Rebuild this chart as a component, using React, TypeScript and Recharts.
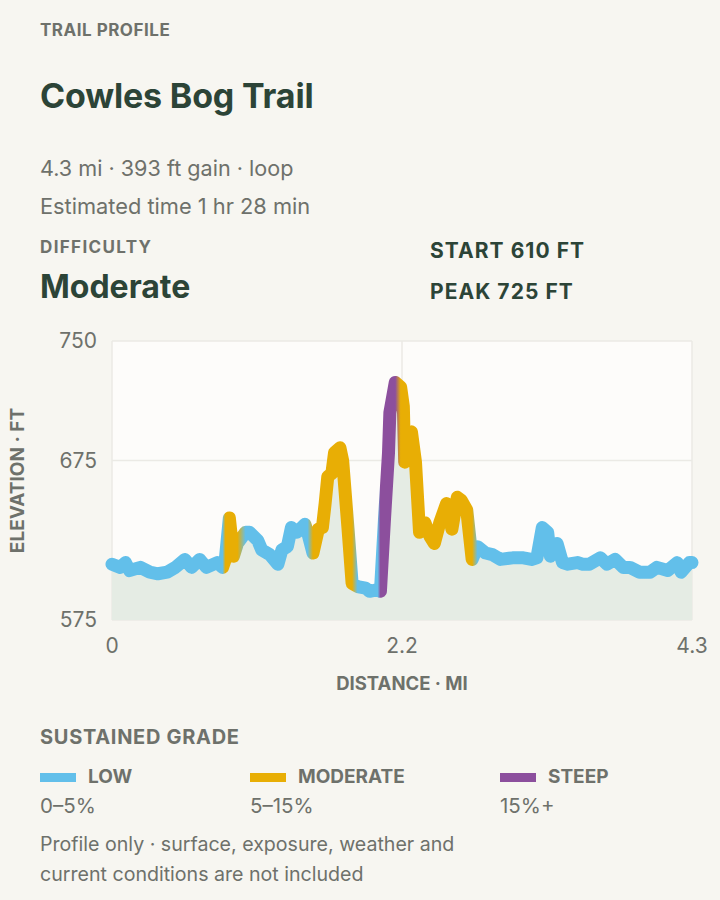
import { ComposedChart, Area, Line, XAxis, YAxis, CartesianGrid } from "recharts";

const distanceMi = [
  0, 0.06, 0.1, 0.13, 0.21, 0.28, 0.34, 0.41, 0.47, 0.54, 0.59, 0.65, 0.7, 0.78, 0.82,
  0.84, 0.87, 0.9, 0.93, 0.99, 1.02, 1.08, 1.11, 1.17, 1.23, 1.26, 1.3, 1.33, 1.37, 1.43,
  1.45, 1.49, 1.53, 1.56, 1.58, 1.6, 1.63, 1.65, 1.69, 1.71, 1.75, 1.78, 1.82, 1.88, 1.91,
  1.97, 1.99, 2.02, 2.05, 2.06, 2.1, 2.14, 2.16, 2.17, 2.19, 2.22, 2.25, 2.28, 2.32, 2.36,
  2.39, 2.43, 2.48, 2.52, 2.56, 2.59, 2.63, 2.67, 2.71, 2.77, 2.82, 2.88, 2.97, 3.05, 3.11,
  3.15, 3.19, 3.23, 3.25, 3.3, 3.34, 3.38, 3.45, 3.49, 3.54, 3.62, 3.67, 3.73, 3.79, 3.84,
  3.91, 3.99, 4.04, 4.12, 4.19, 4.22, 4.28, 4.3,
];
const elevationFt = [
  610, 608, 611, 606, 608, 605, 604, 605, 608, 613, 608, 613, 608, 611, 608,
  613, 639, 615, 623, 630, 630, 625, 619, 616, 610, 619, 621, 633, 630, 635,
  630, 617, 632, 633, 648, 665, 667, 680, 683, 675, 632, 598, 596, 595, 593,
  594, 593, 638, 680, 705, 724, 721, 709, 674, 690, 693, 674, 630, 636, 627,
  623, 636, 648, 632, 652, 650, 644, 613, 621, 617, 616, 613, 614, 614, 613,
  614, 633, 630, 615, 623, 611, 610, 611, 610, 610, 614, 610, 613, 608, 608,
  605, 605, 608, 606, 611, 605, 611, 611,
];

// sustained grade sections (mi), everything else is low
const bandFrom = [0.835, 1.47, 1.985, 2.12];
const bandTo = [0.95, 1.79, 2.11, 2.68];
const bandGrade = ["moderate", "moderate", "steep", "moderate"];

const distanceTicks = [0, 2.15, 4.3];
const elevationTicks = [575, 675, 750];

const gradeLabels = ["LOW", "MODERATE", "STEEP"];
const gradeRanges = ["0–5%", "5–15%", "15%+"];

const GRADE_COLORS: Record<string, string> = {
  low: "#62bfea",
  moderate: "#e8ae05",
  steep: "#8c4f9d",
};
const gradeKeys = ["low", "moderate", "steep"];
const legendX = [40, 250, 500];

const data = distanceMi.map((d, i) => ({ d, elev: elevationFt[i] }));

const gradeAt = (d: number) => {
  for (let i = 0; i < bandFrom.length; i++) {
    if (d >= bandFrom[i] && d <= bandTo[i]) return bandGrade[i];
  }
  return "low";
};

const FONT = "Inter, 'Noto Sans', sans-serif";
const DARK = "#2c4437";
const GRAY = "#6e716b";
const maxD = distanceMi[distanceMi.length - 1];

const fmtMi = (v: number) => (v === 0 ? "0" : String(Math.round(v * 10) / 10));

function T({ x, y, size, bold, color, children, lh, ls }: any) {
  const h = lh || size + 6;
  return (
    <div
      style={{
        position: "absolute",
        left: x,
        top: y - h / 2,
        fontSize: size,
        lineHeight: `${h}px`,
        fontWeight: bold ? 700 : 400,
        letterSpacing: ls || 0,
        color,
        whiteSpace: "nowrap",
      }}
    >
      {children}
    </div>
  );
}

export default function App() {
  return (
    <div
      style={{
        position: "absolute",
        left: 0,
        top: 0,
        width: 720,
        height: 900,
        background: "#f7f6f1",
        fontFamily: FONT,
        overflow: "hidden",
      }}
    >
      <T x={40} y={30} size={17} bold color={GRAY} ls="0.03em">TRAIL PROFILE</T>
      <T x={40} y={96} size={34} bold color={DARK} ls="-0.005em">Cowles Bog Trail</T>
      <T x={40} y={169} size={21.6} color={GRAY}>4.3 mi · 393 ft gain · loop</T>
      <T x={40} y={207} size={21.8} color={GRAY}>Estimated time 1 hr 28 min</T>
      <T x={40} y={247} size={17} bold color={GRAY} ls="0.08em">DIFFICULTY</T>
      <T x={40} y={287} size={32} bold color={DARK}>Moderate</T>
      <T x={430} y={250} size={21} bold color={DARK} ls="0.05em">START 610 FT</T>
      <T x={430} y={291} size={21} bold color={DARK} ls="0.05em">PEAK 725 FT</T>

      <div style={{ position: "absolute", left: 0, top: 320 }}>
        <ComposedChart width={720} height={380} data={data} margin={{ top: 21, right: 28, left: 0, bottom: 0 }}>
          <defs>
            <linearGradient id="gradeStroke" x1="0" y1="0" x2="1" y2="0">
              {distanceMi.map((d, i) => (
                <stop key={i} offset={d / maxD} stopColor={GRADE_COLORS[gradeAt(d)]} />
              ))}
            </linearGradient>
          </defs>
          <CartesianGrid fill="#fdfcfa" stroke="#ebeae5" strokeWidth={1.5} />
          <XAxis
            dataKey="d"
            type="number"
            domain={[0, maxD]}
            ticks={distanceTicks}
            tickFormatter={fmtMi}
            tick={{ fill: GRAY, fontSize: 21, fontFamily: FONT }}
            tickLine={false}
            axisLine={false}
            tickMargin={12}
            height={80}
            label={{ value: "DISTANCE · MI", position: "insideBottom", offset: 10, fill: GRAY, fontSize: 18.5, fontWeight: 700, fontFamily: FONT }}
          />
          <YAxis
            type="number"
            domain={[575, 750]}
            ticks={elevationTicks}
            tick={{ fill: GRAY, fontSize: 21, fontFamily: FONT }}
            tickLine={false}
            axisLine={false}
            tickMargin={9}
            width={112}
            label={{
              value: "ELEVATION · FT",
              angle: -90,
              position: "insideLeft",
              offset: 17,
              fill: GRAY,
              fontSize: 19,
              fontWeight: 700,
              fontFamily: FONT,
              style: { textAnchor: "middle" },
            }}
          />
          <Area dataKey="elev" type="linear" stroke="none" fill="#e5ece4" fillOpacity={1} isAnimationActive={false} />
          <Line
            dataKey="elev"
            type="linear"
            stroke="url(#gradeStroke)"
            strokeWidth={13}
            strokeLinejoin="round"
            strokeLinecap="round"
            dot={false}
            activeDot={false}
            isAnimationActive={false}
          />
        </ComposedChart>
      </div>

      <T x={40} y={737} size={20} bold color={GRAY} ls="0.035em">SUSTAINED GRADE</T>
      {gradeKeys.map((k, i) => (
        <div key={k}>
          <div
            style={{
              position: "absolute",
              left: legendX[i],
              top: 773,
              width: 36,
              height: 9,
              background: GRADE_COLORS[k],
            }}
          />
          <T x={legendX[i] + 48} y={776} size={19} bold color={GRAY}>{gradeLabels[i]}</T>
          <T x={legendX[i]} y={806} size={20.5} color={GRAY}>{gradeRanges[i]}</T>
        </div>
      ))}
      <T x={40} y={845} size={19.6} color={GRAY}>Profile only · surface, exposure, weather and</T>
      <T x={40} y={875} size={19.6} color={GRAY}>current conditions are not included</T>
    </div>
  );
}
